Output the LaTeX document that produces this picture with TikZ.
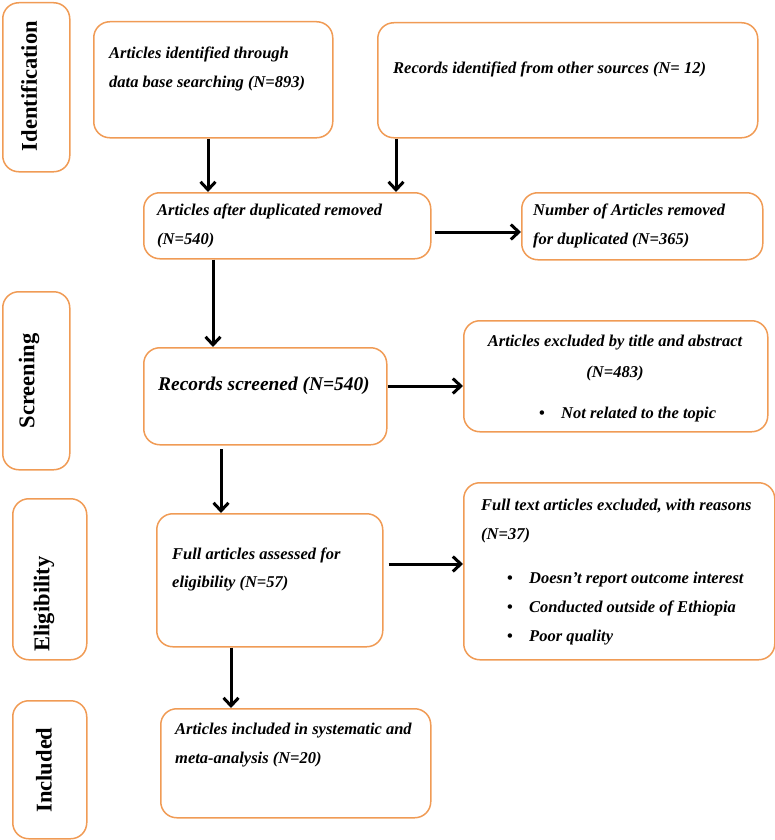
\documentclass[tikz,border=0pt]{standalone}
\usepackage{fontspec}
\setmainfont{Liberation Serif}
\usetikzlibrary{arrows.meta}
\definecolor{bord}{RGB}{240,155,85}
\newcommand{\bul}{\makebox[22pt][l]{\upshape\textbullet}}
\begin{document}
\begin{tikzpicture}[x=1pt,y=-1pt,
  box/.style={draw=bord,line width=1.5pt,rounded corners=16pt,inner sep=0pt,anchor=north west},
  txt/.style={font=\fontsize{16.5}{20}\selectfont\bfseries\itshape,anchor=base west,inner sep=0pt},
  ctxt/.style={font=\fontsize{16.5}{20}\selectfont\bfseries\itshape,anchor=base,inner sep=0pt},
  big/.style={font=\fontsize{19.4}{23}\selectfont\bfseries\itshape,anchor=base west,inner sep=0pt},
  side/.style={font=\fontsize{22.5}{26}\selectfont\bfseries,rotate=90,inner sep=0pt},
  arr/.style={line width=3pt,-{Straight Barb[length=8pt,width=15pt]}}]
\useasboundingbox (0,0) rectangle (775,840);

% side boxes
\node[box,minimum width=67pt,minimum height=169pt] (S1) at (2,2) {};
\node[side] (L1) at (29,86) {Identification};
\node[box,minimum width=67pt,minimum height=178pt] (S2) at (2,291) {};
\node[side] (L2) at (29,381) {Screening};
\node[box,minimum width=74pt,minimum height=161pt] (S3) at (12,498) {};
\node[side] (L3) at (44,604) {Eligibility};
\node[box,minimum width=74pt,minimum height=138pt] (S4) at (12,700) {};
\node[side] (L4) at (44,770) {Included};

% main boxes
\node[box,minimum width=239pt,minimum height=116pt] (A) at (93,21) {};
\node[txt] (A1) at (109,59) {Articles identified through};
\node[txt] (A2) at (109,88) {data base searching (N=893)};

\node[box,minimum width=380pt,minimum height=115pt] (B) at (377,22) {};
\node[txt] (B1) at (393,74) {Records identified from other sources (N= 12)};

\node[box,minimum width=287pt,minimum height=66pt] (C) at (143,192) {};
\node[txt] (C1) at (157,215) {Articles after duplicated removed};
\node[txt] (C2) at (157,244) {(N=540)};

\node[box,minimum width=241pt,minimum height=67pt] (D) at (521,192) {};
\node[txt] (D1) at (533,215) {Number of Articles removed};
\node[txt] (D2) at (533,244) {for duplicated (N=365)};

\node[box,minimum width=243pt,minimum height=97pt] (E) at (143,347) {};
\node[big] (E1) at (158,390) {Records screened (N=540)};

\node[box,minimum width=304pt,minimum height=111pt] (F) at (463,320) {};
\node[ctxt] (F1) at (615,346) {Articles excluded by title and abstract};
\node[ctxt] (F2) at (615,377) {(N=483)};
\node[txt] (F3) at (539,418) {\bul Not related to the topic};

\node[box,minimum width=226pt,minimum height=133pt] (G) at (156,513) {};
\node[txt] (G1) at (172,559) {Full articles assessed for};
\node[txt] (G2) at (172,587) {eligibility (N=57)};

\node[box,minimum width=311pt,minimum height=177pt] (I) at (463,482) {};
\node[txt] (I1) at (481,510) {Full text articles excluded, with reasons};
\node[txt] (I2) at (481,539) {(N=37)};
\node[txt] (I3) at (507,583) {\bul Doesn’t report outcome interest};
\node[txt] (I4) at (507,612) {\bul Conducted outside of Ethiopia};
\node[txt] (I5) at (507,641) {\bul Poor quality};

\node[box,minimum width=270pt,minimum height=109pt] (H) at (160,708) {};
\node[txt] (H1) at (175,734) {Articles included in systematic and};
\node[txt] (H2) at (175,763) {meta-analysis (N=20)};

% arrow x positions
\coordinate (xa) at (208,0);
\coordinate (xb) at (396,0);
\coordinate (xc) at (213,0);
\coordinate (xe) at (221,0);
\coordinate (xg) at (231,0);
\coordinate (ye) at (0,449);

\draw[arr] (A.south -| xa) -- (C.north -| xa);
\draw[arr] (B.south -| xb) -- (C.north -| xb);
\draw[arr] ([xshift=3pt]C.east |- 0,232) -- (D.west |- 0,232);
\draw[arr] (C.south -| xc) -- (E.north -| xc);
\draw[arr] (E.east |- 0,386) -- (F.west |- 0,386);
\draw[arr] (ye -| xe) -- (G.north -| xe);
\draw[arr] ([xshift=5pt]G.east |- 0,564) -- (I.west |- 0,564);
\draw[arr] (G.south -| xg) -- (H.north -| xg);
\end{tikzpicture}
\end{document}
